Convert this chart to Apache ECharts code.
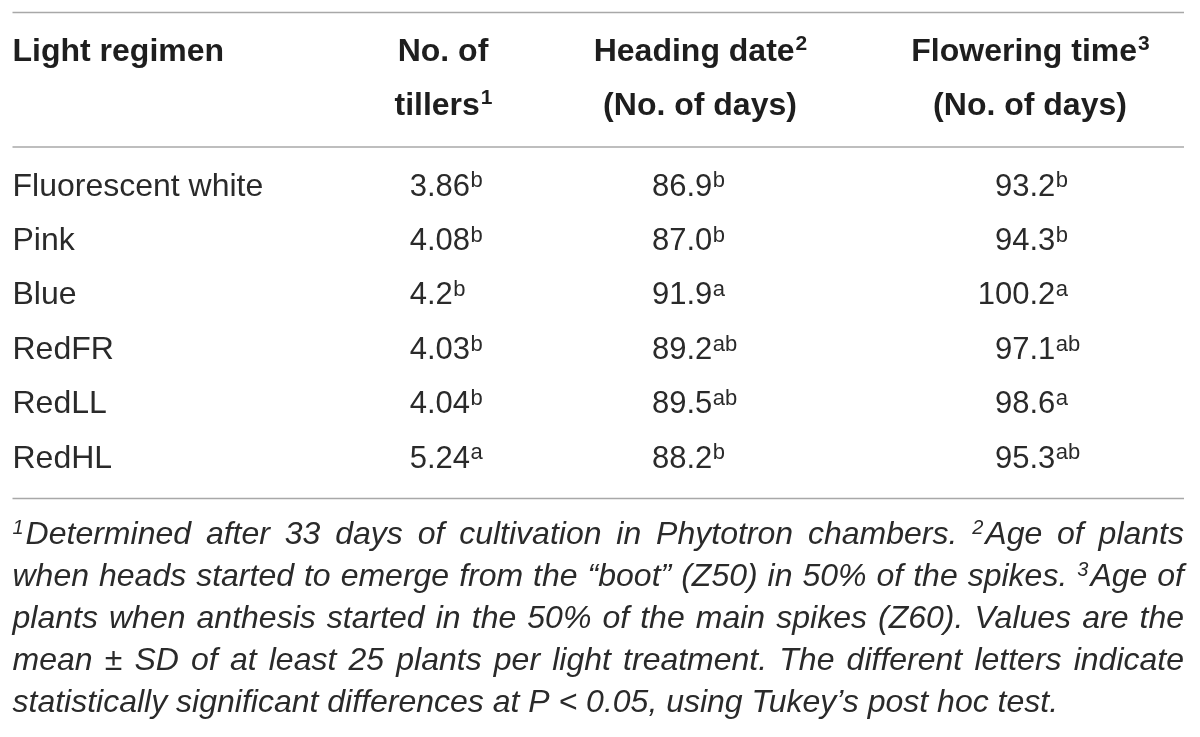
<!DOCTYPE html>
<html>
<head>
<meta charset="utf-8">
<script src="https://cdn.jsdelivr.net/npm/echarts@6/dist/echarts.min.js"></script>
<style>
  html, body { margin: 0; padding: 0; background: #fff; }
  #main { width: 1200px; height: 737px; }
</style>
</head>
<body>
<div id="main"></div>
<script>
// table data
var regimens = ['Fluorescent white', 'Pink', 'Blue', 'RedFR', 'RedLL', 'RedHL'];
var tillers = [3.86, 4.08, 4.2, 4.03, 4.04, 5.24];
var tillersSig = ['b', 'b', 'b', 'b', 'b', 'a'];
var heading = [86.9, 87.0, 91.9, 89.2, 89.5, 88.2];
var headingSig = ['b', 'b', 'a', 'ab', 'ab', 'b'];
var flowering = [93.2, 94.3, 100.2, 97.1, 98.6, 95.3];
var floweringSig = ['b', 'b', 'a', 'ab', 'a', 'ab'];

// column titles, "^n" marks a footnote number
var columnTitles = [
    ['Light regimen'],
    ['No. of', 'tillers^1'],
    ['Heading date^2', '(No. of days)'],
    ['Flowering time^3', '(No. of days)']
];

var footnotes = [
    '^1Determined after 33 days of cultivation in Phytotron chambers. ^2Age of plants',
    'when heads started to emerge from the \u201cboot\u201d (Z50) in 50% of the spikes. ^3Age of',
    'plants when anthesis started in the 50% of the main spikes (Z60). Values are the',
    'mean \u00b1 SD of at least 25 plants per light treatment. The different letters indicate',
    'statistically significant differences at P < 0.05, using Tukey\u2019s post hoc test.'
];

var columns = [
    { values: tillers, sig: tillersSig, decimals: null },
    { values: heading, sig: headingSig, decimals: 1 },
    { values: flowering, sig: floweringSig, decimals: 1 }
];

// layout
var FAM = '"Liberation Sans", Arial, Helvetica, sans-serif';
var F_NAME = '32px ' + FAM, S_NAME = 32;
var F_BODY = '31px ' + FAM, S_BODY = 31;
var F_BOLD = 'bold 32px ' + FAM, S_BOLD = 32;
var F_SUP = '22px ' + FAM, S_SUP = 22;
var F_BSUP = 'bold 21px ' + FAM, S_BSUP = 21;
var F_NOTE = 'italic 32px ' + FAM, S_NOTE = 32;
var F_NSUP = 'italic 20px ' + FAM, S_NSUP = 20;
var INK = '#2a2a2a';
var RULE = '#a8a8a8';
var X0 = 12.5, X1 = 1184;
var headCenters = [null, 443, 700, 1030];
var headBase = [63, 117];
var decimalX = [427, 686.4, 1029.4];
var rowBase0 = 198, rowStep = 54.4;
var noteBase0 = 546, noteStep = 42;

var ctx = document.createElement('canvas').getContext('2d');
function tw(s, font) {
    ctx.font = font;
    return ctx.measureText(s).width;
}
function txt(s, x, base, font, size, color) {
    return {
        type: 'text', x: x, y: base - 0.35 * size, silent: true,
        style: { text: s, font: font, fill: color || INK, align: 'left', verticalAlign: 'middle' }
    };
}
function splitNote(s) {
    var m = /^(.*?)\^(\d)(.*)$/.exec(s);
    if (!m) return { pre: s, sup: '', post: '' };
    return { pre: m[1], sup: m[2], post: m[3] };
}

var els = [];

// rules
[12.5, 147, 498.5].forEach(function (y) {
    els.push({ type: 'line', silent: true, shape: { x1: X0, y1: y, x2: X1, y2: y },
        style: { stroke: RULE, lineWidth: 1.6 } });
});

// header
columnTitles.forEach(function (lines, c) {
    lines.forEach(function (line, k) {
        var p = splitNote(line);
        var w1 = tw(p.pre, F_BOLD), ws = tw(p.sup, F_BSUP);
        var left = c === 0 ? X0 : headCenters[c] - (w1 + ws) / 2;
        els.push(txt(p.pre, left, headBase[k], F_BOLD, S_BOLD, '#1e1e1e'));
        if (p.sup) els.push(txt(p.sup, left + w1 + 1, headBase[k] - 11, F_BSUP, S_BSUP, '#1e1e1e'));
    });
});

// body rows
regimens.forEach(function (name, i) {
    var base = rowBase0 + i * rowStep;
    els.push(txt(name, X0, base, F_NAME, S_NAME));
    columns.forEach(function (col, c) {
        var v = col.values[i];
        var s = col.decimals == null ? String(v) : v.toFixed(col.decimals);
        var left = decimalX[c] - tw(s.split('.')[0], F_BODY);
        var w = tw(s, F_BODY);
        els.push(txt(s, left, base, F_BODY, S_BODY));
        els.push(txt(col.sig[i], left + w + 0.5, base - 9, F_SUP, S_SUP));
    });
});

// footnote, justified except last line
footnotes.forEach(function (line, j) {
    var base = noteBase0 + j * noteStep;
    var words = line.split(' ').map(function (wd) {
        var m = /^\^(\d)(.*)$/.exec(wd);
        var sup = m ? m[1] : '', main = m ? m[2] : wd;
        var ws = sup ? tw(sup, F_NSUP) + 2 : 0;
        return { sup: sup, main: main, ws: ws, w: ws + tw(main, F_NOTE) };
    });
    var total = words.reduce(function (a, b) { return a + b.w; }, 0);
    var gap = j < footnotes.length - 1 ? (X1 - X0 - total) / (words.length - 1) : tw(' ', F_NOTE);
    var x = X0;
    words.forEach(function (wd) {
        if (wd.sup) els.push(txt(wd.sup, x, base - 11, F_NSUP, S_NSUP));
        els.push(txt(wd.main, x + wd.ws, base, F_NOTE, S_NOTE));
        x += wd.w + gap;
    });
});

var myChart = echarts.init(document.getElementById('main'));
myChart.setOption({
    backgroundColor: '#ffffff',
    animation: false,
    graphic: els
});
</script>
</body>
</html>
